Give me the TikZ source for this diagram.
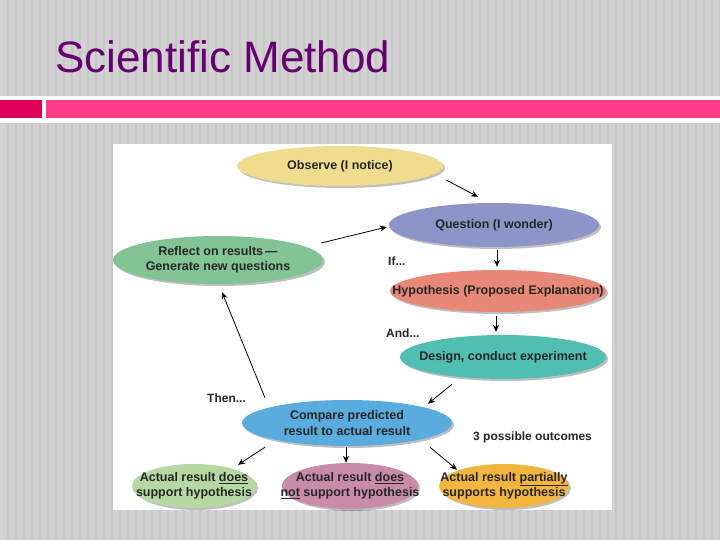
\documentclass[tikz,border=0pt]{standalone}
\usepackage{fontspec}
\setmainfont{Liberation Sans}
\usetikzlibrary{shapes.geometric,shadows,arrows.meta}

\definecolor{slidegray}{RGB}{210,210,210}
\definecolor{stripegray}{RGB}{198,198,198}
\definecolor{titlepurple}{RGB}{102,0,112}
\definecolor{barpink}{RGB}{255,60,138}
\definecolor{boxpink}{RGB}{224,0,90}
\definecolor{obsyellow}{RGB}{240,220,142}
\definecolor{quesblue}{RGB}{140,148,200}
\definecolor{refgreen}{RGB}{130,196,150}
\definecolor{hypred}{RGB}{232,136,120}
\definecolor{desteal}{RGB}{80,190,176}
\definecolor{cmpblue}{RGB}{90,172,222}
\definecolor{supgreen}{RGB}{182,216,162}
\definecolor{notmauve}{RGB}{200,140,168}
\definecolor{partorange}{RGB}{242,182,62}

\begin{document}
\begin{tikzpicture}[x=1pt, y=-1pt,
  bubble/.style={ellipse, inner xsep=-80pt, inner ysep=-20pt, align=center, text=black!85,
    font=\fontsize{12.5}{15.5}\selectfont\bfseries,
    drop shadow={shadow xshift=2pt, shadow yshift=-2pt, opacity=.25, fill=black}},
  arr/.style={-{Stealth[length=7pt,width=6pt]}, line width=0.8pt, black},
  hint/.style={inner sep=0pt, text=black!85, font=\fontsize{12}{14}\selectfont\bfseries}]
  \useasboundingbox (0,0) rectangle (720,540);

  % Slide background with stripes
  \fill[slidegray] (0,0) rectangle (720,540);
  \foreach \sx in {7,15,...,719}
    \fill[stripegray] (\sx,0) rectangle +(2,540);

  % Title and bar
  \node[anchor=base west, inner sep=0pt, text=titlepurple,
        font=\fontsize{44}{44}\selectfont] (title) at (55,73) {Scientific Method};
  \fill[white] (0,96.5) rectangle (720,123);
  \fill[boxpink] (0,100) rectangle (42,118);
  \fill[barpink] (46,100) rectangle (720,118);

  % Picture panel
  \fill[white] (113,144) rectangle (612,510);

  % Steps
  \node[bubble, fill=obsyellow, minimum width=206, minimum height=40] (obs) at (340,166) {Observe (I notice)};
  \node[bubble, fill=quesblue, minimum width=210, minimum height=44] (ques) at (494,225) {Question (I wonder)};
  \node[bubble, fill=refgreen, minimum width=210, minimum height=48] (refl) at (218,260) {Reflect on results\,—\\Generate new questions};
  \node[bubble, fill=hypred, minimum width=216, minimum height=42] (hyp) at (498,291) {Hypothesis (Proposed Explanation)};
  \node[bubble, fill=desteal, minimum width=206, minimum height=44] (des) at (503,357) {Design, conduct experiment};
  \node[bubble, fill=cmpblue, minimum width=210, minimum height=46] (cmp) at (347,423) {Compare predicted\\result to actual result};

  % Outcomes
  \node[bubble, fill=supgreen, minimum width=124, minimum height=44] (sup) at (194,486) {Actual result \underline{does}\\support hypothesis};
  \node[bubble, fill=notmauve, minimum width=136, minimum height=46] (nsup) at (350,486) {Actual result \underline{does}\\\underline{not} support hypothesis};
  \node[bubble, fill=partorange, minimum width=130, minimum height=44] (part) at (504,486) {Actual result \underline{partially}\\supports hypothesis};

  % Side notes
  \node[hint, anchor=west] (ifnote) at (388,261) {If...};
  \node[hint, anchor=west] (andnote) at (386,333) {And...};
  \node[hint, anchor=west] (thennote) at (207,398) {Then...};
  \node[hint, anchor=west] (outnote) at (473,437) {3 possible outcomes};

  % Connectors
  \draw[arr] ([shift={(3,14)}]obs.east) -- ([shift={(-16,-6)}]ques.north);
  \draw[arr] ([shift={(-2,-17)}]refl.east) -- ([shift={(-2,2)}]ques.west);
  \draw[arr] ([shift={(3,3)}]ques.south) -- ([shift={(-1,-3)}]hyp.north);
  \draw[arr] ([shift={(-2,4)}]hyp.south) -- ([shift={(-7,-3)}]des.north);
  \draw[arr] ([shift={(-51,5)}]des.south) -- ([shift={(81,4)}]cmp.north);
  \draw[arr] ([shift={(-82,-2)}]cmp.north) -- ([shift={(4,8)}]refl.south);
  \draw[arr] ([shift={(-82,1)}]cmp.south) -- ([shift={(44,1)}]sup.north);
  \draw[arr] ([shift={(-1,1)}]cmp.south) -- ([shift={(-4,0)}]nsup.north);
  \draw[arr] ([shift={(83,1)}]cmp.south) -- ([shift={(-47,6)}]part.north);
\end{tikzpicture}
\end{document}
